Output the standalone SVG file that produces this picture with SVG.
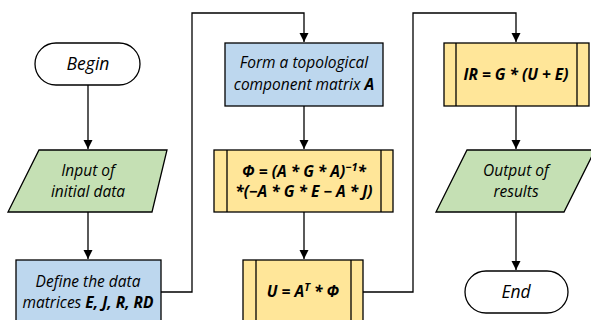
<svg xmlns="http://www.w3.org/2000/svg" width="591" height="320" viewBox="0 0 591 320">
<defs>
<marker id="arr" markerWidth="10" markerHeight="10" refX="9" refY="5" orient="auto" markerUnits="userSpaceOnUse">
<path d="M0,0.5 L9,5 L0,9.5 Z" fill="#000"/>
</marker>
<style>
.sh{stroke:#000;stroke-width:1.3}
.term{fill:#fff}
.io{fill:#c5e0b4}
.proc{fill:#bdd7ee}
.sub{fill:#ffe699}
.ln{fill:none;stroke:#000;stroke-width:1.3}
.t{font-family:"Open Sans","Noto Sans",sans-serif;font-style:italic;font-size:15.5px;fill:#000;text-anchor:middle}
.big{font-size:17.5px}
.b{font-weight:bold}
.sup{font-size:11px}
</style>
</defs>
<rect x="0" y="0" width="591" height="320" fill="#fff"/>
<g id="connectors" class="ln">
<line x1="88" y1="85" x2="88" y2="149" marker-end="url(#arr)"/>
<line x1="88" y1="212" x2="88" y2="259" marker-end="url(#arr)"/>
<polyline points="161,292 192,292 192,13 304,13 304,42" marker-end="url(#arr)"/>
<line x1="304" y1="106" x2="304" y2="149" marker-end="url(#arr)"/>
<line x1="304" y1="212" x2="304" y2="259" marker-end="url(#arr)"/>
<polyline points="363,292 413,292 413,13 516,13 516,42" marker-end="url(#arr)"/>
<line x1="516" y1="106" x2="516" y2="149" marker-end="url(#arr)"/>
<line x1="516" y1="212" x2="516" y2="270" marker-end="url(#arr)"/>
</g>
<g id="begin">
<rect class="sh term" x="35" y="43" width="105" height="42" rx="21"/>
<text class="t big" x="88" y="70">Begin</text>
</g>
<g id="input">
<polygon class="sh io" points="39,150 167,150 152,212 8,212"/>
<text class="t" x="88" y="176">Input of</text>
<text class="t" x="88" y="197">initial data</text>
</g>
<g id="define">
<rect class="sh proc" x="16" y="260" width="145" height="66"/>
<text class="t" x="88" y="287">Define the data</text>
<text class="t" x="88" y="308">matrices <tspan class="b">E, J, R, RD</tspan></text>
</g>
<g id="form">
<rect class="sh proc" x="225" y="43" width="158" height="63"/>
<text class="t" x="304" y="68">Form a topological</text>
<text class="t" x="304" y="90">component matrix <tspan class="b">A</tspan></text>
</g>
<g id="phi">
<rect class="sh sub" x="214" y="150" width="179" height="62"/>
<line class="ln" x1="227" y1="150" x2="227" y2="212"/>
<line class="ln" x1="381" y1="150" x2="381" y2="212"/>
<text class="t b" x="304" y="177">Φ = (A * G * A)<tspan class="sup" dy="-6">−1</tspan><tspan dy="6">*</tspan></text>
<text class="t b" x="304" y="197">*(−A * G * E − A * J)</text>
</g>
<g id="u">
<rect class="sh sub" x="243" y="260" width="120" height="66"/>
<line class="ln" x1="256" y1="260" x2="256" y2="326"/>
<line class="ln" x1="351" y1="260" x2="351" y2="326"/>
<text class="t b" x="303" y="297">U = A<tspan class="sup" dy="-6">T</tspan><tspan dy="6"> * Φ</tspan></text>
</g>
<g id="ir">
<rect class="sh sub" x="444" y="43" width="145" height="63"/>
<line class="ln" x1="456" y1="43" x2="456" y2="106"/>
<line class="ln" x1="577" y1="43" x2="577" y2="106"/>
<text class="t b" x="516" y="80">IR = G * (U + E)</text>
</g>
<g id="output">
<polygon class="sh io" points="467,150 595,150 564,212 436,212"/>
<text class="t" x="516" y="176">Output of</text>
<text class="t" x="516" y="197">results</text>
</g>
<g id="end">
<rect class="sh term" x="465" y="271" width="103" height="42" rx="21"/>
<text class="t big" x="516" y="298">End</text>
</g>
</svg>
